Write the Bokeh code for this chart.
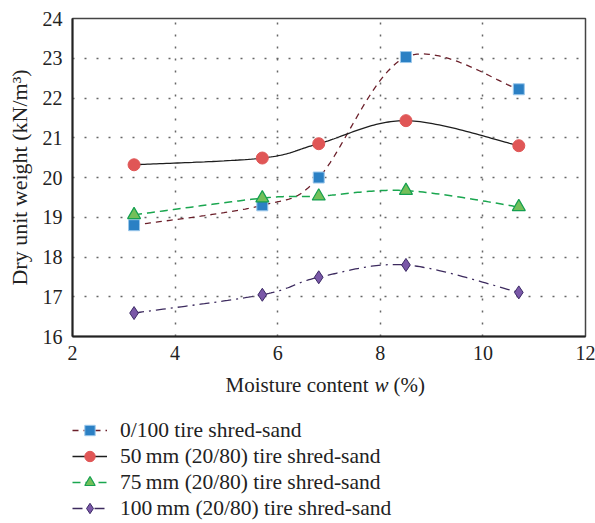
import numpy as np
from bokeh.plotting import figure
from bokeh.models import Legend, LegendItem, FixedTicker, Range1d, Label
from bokeh.layouts import column
from bokeh.embed import file_html
from bokeh.resources import INLINE

moisture = [3.2, 5.7, 6.8, 8.5, 10.7]
s0_100 = [18.8, 19.3, 20.0, 23.03, 22.22]
s50 = [20.32, 20.49, 20.85, 21.43, 20.8]
s75 = [19.06, 19.48, 19.53, 19.67, 19.26]
s100 = [16.59, 17.05, 17.49, 17.8, 17.11]
x_ticks = [2, 4, 6, 8, 10, 12]
y_ticks = [16, 17, 18, 19, 20, 21, 22, 23, 24]
series_labels = [
    "0/100 tire shred-sand",
    "50\u2009mm (20/80) tire shred-sand",
    "75\u2009mm (20/80) tire shred-sand",
    "100\u2009mm (20/80) tire shred-sand",
]
x_label_parts = ["Moisture content", "w", "(%)"]
y_label = "Dry unit weight (kN/m\u00b3)"

FONT = "Liberation Serif"
TXT = "#222222"

styles = [
    dict(line=dict(line_color="#6b1f2a", line_width=1.3, line_dash="6 5"),
         mark=dict(marker="square", size=11, fill_color="#2b80c4", line_color="#9cc8ec", line_width=1)),
    dict(line=dict(line_color="#1e1e1e", line_width=1.3),
         mark=dict(marker="circle", size=12, fill_color="#e05656", line_color="#e05656", line_width=1)),
    dict(line=dict(line_color="#1aa64f", line_width=1.5, line_dash="8 5"),
         mark=dict(marker="triangle", size=13, fill_color="#74bf5a", line_color="#15a050", line_width=1.2)),
    dict(line=dict(line_color="#3c2a5e", line_width=1.3, line_dash="10 5 2 5"),
         mark=dict(marker="diamond", size=13, fill_color="#7a58a8", line_color="#3c2a66", line_width=1)),
]


def smooth(xs, ys, sx=51.3, sy=39.75, n=40):
    # Excel-like smoothed line (Catmull-Rom Bezier), computed in screen-like space
    P = np.column_stack([np.array(xs) * sx, np.array(ys) * sy])
    m = len(P)
    out = []
    for i in range(m - 1):
        p0 = P[i - 1] if i > 0 else P[i]
        p1 = P[i]
        p2 = P[i + 1]
        p3 = P[i + 2] if i + 2 < m else P[i + 1]
        c1 = p1 + (p2 - p0) / 6.0
        c2 = p2 - (p3 - p1) / 6.0
        t = np.linspace(0, 1, n)[:, None]
        seg = ((1 - t) ** 3) * p1 + 3 * ((1 - t) ** 2) * t * c1 + 3 * (1 - t) * t ** 2 * c2 + t ** 3 * p2
        if i > 0:
            seg = seg[1:]
        out.append(seg)
    pts = np.vstack(out)
    return pts[:, 0] / sx, pts[:, 1] / sy


p = figure(frame_width=513, frame_height=318, output_backend="svg", toolbar_location=None,
           x_range=Range1d(2, 12), y_range=Range1d(16, 24),
           min_border_left=72, min_border_right=10, min_border_top=18,
           min_border_bottom=34)

p.background_fill_color = "white"
p.border_fill_color = "white"
p.outline_line_color = "#444444"
p.outline_line_width = 1.5

for ax in (p.xaxis[0], p.yaxis[0]):
    ax.axis_line_color = "#222222"
    ax.axis_line_width = 2
    ax.major_tick_line_color = None
    ax.minor_tick_line_color = None
    ax.major_tick_out = 0
    ax.major_tick_in = 0
    ax.minor_tick_out = 0
    ax.minor_tick_in = 0
    ax.major_label_text_font = FONT
    ax.major_label_text_font_size = "20px"
    ax.major_label_text_color = TXT
    ax.axis_label_text_font = FONT
    ax.axis_label_text_font_size = "22px"
    ax.axis_label_text_font_style = "normal"
    ax.axis_label_text_color = TXT

p.xaxis.ticker = FixedTicker(ticks=x_ticks)
p.yaxis.ticker = FixedTicker(ticks=y_ticks)
p.yaxis.axis_label = y_label
p.xaxis.major_label_standoff = 9
p.yaxis.major_label_standoff = 10
p.yaxis.axis_label_standoff = 8

p.xgrid.ticker = FixedTicker(ticks=[4, 6, 8, 10])
p.ygrid.ticker = FixedTicker(ticks=[17, 18, 19, 20, 21, 22, 23])
for g in (p.xgrid[0], p.ygrid[0]):
    g.grid_line_color = "#666666"
    g.grid_line_width = 1.5
    g.grid_line_dash = "2 10"

series = [s0_100, s50, s75, s100]
for ys, st in zip(series, styles):
    sx, sy = smooth(moisture, ys)
    p.line(sx, sy, **st["line"])
    p.scatter(moisture, ys, **st["mark"])

# second figure: x-axis title and legend below the plot (frame aligned with the plot above)
p2 = figure(width=595, height=153, output_backend="svg", toolbar_location=None,
            x_range=Range1d(0, 1), y_range=Range1d(0, 1),
            x_axis_location=None, y_axis_location=None,
            min_border_left=0, min_border_right=0, min_border_top=0, min_border_bottom=0)
p2.outline_line_color = None
p2.grid.visible = False
p2.background_fill_color = "white"
p2.border_fill_color = "white"

lab_kw = dict(x_units="screen", y_units="screen", y=139, text_font=FONT,
              text_font_size="21px", text_color=TXT, text_baseline="alphabetic")
p2.add_layout(Label(x=296, text=x_label_parts[0], text_align="right", **lab_kw))
p2.add_layout(Label(x=302, text=x_label_parts[1], text_align="left", text_font_style="italic", **lab_kw))
p2.add_layout(Label(x=321, text=x_label_parts[2], text_align="left", **lab_kw))

items = []
for lab, st in zip(series_labels, styles):
    # off-screen stand-ins, only so that the legend can draw each series' symbol
    lr = p2.line([-10, -9], [-10, -9], **st["line"])
    mr = p2.scatter([-10], [-10], **st["mark"])
    items.append(LegendItem(label=lab, renderers=[lr, mr]))

legend = Legend(items=items, location=(0, 2), orientation="vertical")
legend.border_line_color = None
legend.background_fill_alpha = 0
legend.label_text_font = FONT
legend.label_text_font_size = "21.5px"
legend.label_text_color = TXT
legend.glyph_width = 35
legend.glyph_height = 26
legend.label_height = 26
legend.label_standoff = 13
legend.spacing = 0
legend.padding = 0
legend.margin = 0
legend.label_text_baseline = "middle"
p2.add_layout(legend, "center")

layout = column(p, p2, spacing=0)
open("out.html", "w").write(file_html(layout, INLINE))
